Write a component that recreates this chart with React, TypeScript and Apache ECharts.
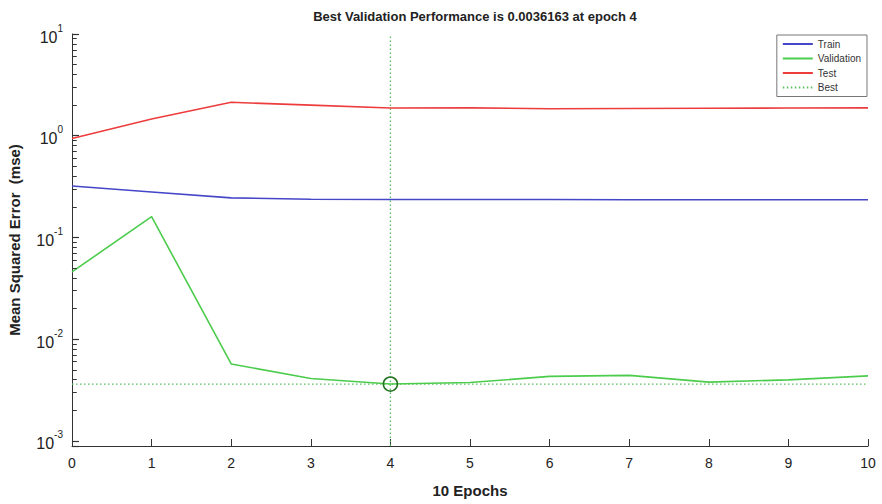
import React, { useEffect, useRef } from "react";
import * as echarts from "echarts";

const epochs = [0, 1, 2, 3, 4, 5, 6, 7, 8, 9, 10];
const trainMse = [0.32, 0.28, 0.245, 0.237, 0.236, 0.236, 0.236, 0.235, 0.235, 0.235, 0.235];
const validationMse = [0.0458, 0.16, 0.0057, 0.0041, 0.0036163, 0.00375, 0.0043, 0.0044, 0.00378, 0.00398, 0.00435];
const testMse = [0.94, 1.46, 2.13, 2.0, 1.87, 1.88, 1.84, 1.85, 1.86, 1.87, 1.88];
const bestEpoch = 4;
const bestValue = 0.0036163;
const yMin = 0.00089;
const yMax = 10;
const minorTickValues = [
  0.002, 0.003, 0.004, 0.005, 0.006, 0.007, 0.008, 0.009,
  0.02, 0.03, 0.04, 0.05, 0.06, 0.07, 0.08, 0.09,
  0.2, 0.3, 0.4, 0.5, 0.6, 0.7, 0.8, 0.9,
  2, 3, 4, 5, 6, 7, 8, 9,
];
const legendNames = ["Train", "Validation", "Test", "Best"];
const titleText = "Best Validation Performance is 0.0036163 at epoch 4";
const xName = "10 Epochs";
const yName = "Mean Squared Error  (mse)";

const FONT = "Liberation Sans, Arial, sans-serif";
const MINOR_TICK_LEN_X = 0.06; // minor tick length, in x-axis units (~5px)

export default function App() {
  const ref = useRef<HTMLDivElement>(null);
  useEffect(() => {
    const chart = echarts.init(ref.current!, null, { renderer: "svg" });
    const pair = (arr: number[]) => epochs.map((e, i) => [e, arr[i]]);
    const option: any = {
      animation: false,
      backgroundColor: "#ffffff",
      textStyle: { fontFamily: FONT },
      title: {
        text: titleText,
        left: 470,
        top: 5,
        textAlign: "center",
        textStyle: { fontSize: 13, fontWeight: "bold", color: "#222", fontFamily: FONT },
      },
      grid: { left: 72, right: 14, top: 34, bottom: 58, outerBoundsMode: "none", containLabel: false },
      legend: {
        data: legendNames,
        orient: "vertical",
        right: 15,
        top: 35,
        backgroundColor: "#fff",
        borderColor: "#777",
        borderWidth: 1,
        padding: [4, 6, 4, 5],
        itemWidth: 30,
        itemHeight: 10,
        itemGap: 4.5,
        itemStyle: { opacity: 0 },
        textStyle: { fontSize: 10, color: "#333", fontFamily: FONT },
      },
      xAxis: {
        type: "value",
        min: 0,
        max: 10,
        interval: 1,
        name: xName,
        nameLocation: "middle",
        nameGap: 37,
        nameTextStyle: { fontSize: 15, fontWeight: "bold", color: "#222", fontFamily: FONT },
        axisLine: { lineStyle: { color: "#333", width: 1 } },
        axisTick: { inside: true, length: 7, lineStyle: { color: "#333" } },
        axisLabel: { fontSize: 14, color: "#222", margin: 10, fontFamily: FONT },
        splitLine: { show: false },
      },
      yAxis: {
        type: "log",
        logBase: 10,
        min: yMin,
        max: yMax,
        name: yName,
        nameLocation: "middle",
        nameGap: 50,
        nameTextStyle: { fontSize: 15, fontWeight: "bold", color: "#222", fontFamily: FONT },
        axisLine: { show: true, lineStyle: { color: "#333", width: 1 } },
        axisTick: { inside: true, length: 7, lineStyle: { color: "#333", width: 1.2 } },
        axisLabel: {
          margin: 9,
          formatter: (v: number) => {
            const l = Math.log10(v);
            const e = Math.round(l);
            if (Math.abs(l - e) > 0.01) return "";
            return `{b|10}{e|${e}}`;
          },
          rich: {
            b: { fontSize: 16, color: "#222", fontFamily: FONT, lineHeight: 22, verticalAlign: "bottom" },
            e: { fontSize: 10, color: "#222", fontFamily: FONT, lineHeight: 22, verticalAlign: "top" },
          },
        },
        splitLine: { show: false },
      },
      series: [
        {
          name: "Train",
          type: "line",
          data: pair(trainMse),
          symbol: "none",
          lineStyle: { color: "#4646c8", width: 1.6 },
          itemStyle: { color: "#4646c8" },
          z: 3,
          markLine: {
            silent: true,
            symbol: ["none", "none"],
            label: { show: false },
            emphasis: { disabled: true },
            lineStyle: { color: "#333", type: "solid", width: 1, opacity: 1 },
            data: minorTickValues.map((v) => [{ coord: [0, v] }, { coord: [MINOR_TICK_LEN_X, v] }]),
          },
        },
        {
          name: "Validation",
          type: "line",
          data: pair(validationMse),
          symbol: "none",
          lineStyle: { color: "#4ccc4c", width: 1.6 },
          itemStyle: { color: "#4ccc4c" },
          z: 3,
        },
        {
          name: "Test",
          type: "line",
          data: pair(testMse),
          symbol: "none",
          lineStyle: { color: "#ec3c3c", width: 1.6 },
          itemStyle: { color: "#ec3c3c" },
          z: 3,
        },
        {
          name: "Best",
          type: "line",
          data: [[0, bestValue], [10, bestValue]],
          symbol: "none",
          lineStyle: { color: "#5cbf5c", width: 1.3, type: [1.5, 2.5] },
          itemStyle: { color: "#5cbf5c" },
          z: 2,
        },
        {
          name: "Best",
          type: "line",
          data: [[bestEpoch, yMin], [bestEpoch, yMax]],
          symbol: "none",
          lineStyle: { color: "#5cbf5c", width: 1.3, type: [1.5, 2.5] },
          itemStyle: { color: "#5cbf5c" },
          z: 2,
        },
        {
          name: "bestPoint",
          type: "scatter",
          data: [[bestEpoch, bestValue]],
          symbol: "circle",
          symbolSize: 14,
          itemStyle: { color: "rgba(0,0,0,0)", borderColor: "#1f701f", borderWidth: 1.6, opacity: 1 },
          silent: true,
          z: 4,
        },
      ],
    };
    chart.setOption(option);
    return () => chart.dispose();
  }, []);
  return <div ref={ref} style={{ position: "fixed", left: 0, top: 0, width: 882, height: 504 }} />;
}
